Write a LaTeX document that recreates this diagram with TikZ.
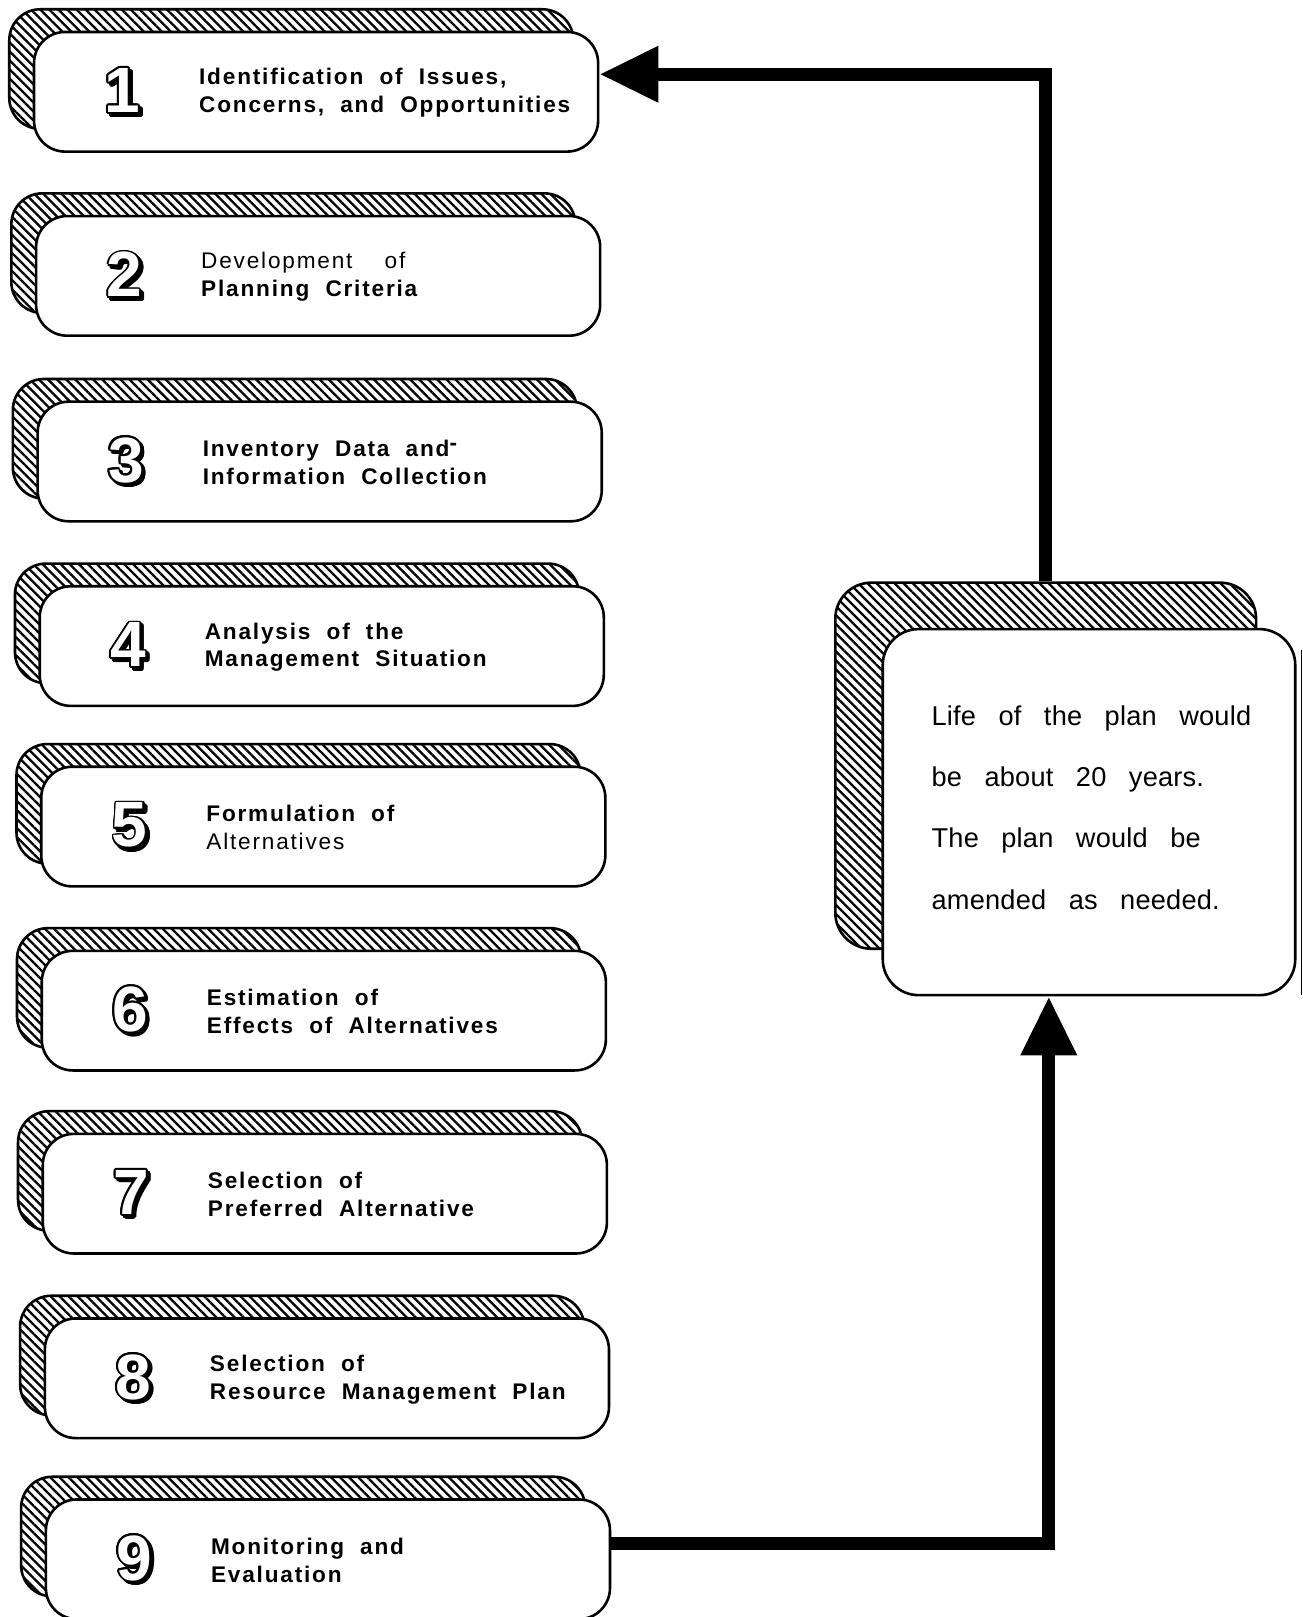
\documentclass[tikz,border=0pt]{standalone}
\usepackage{fontspec}
\setmainfont{Liberation Sans}
\newfontfamily\boxfont[LetterSpace=8,WordSpace=2]{Liberation Sans}
\newfontfamily\sidefont[LetterSpace=0.75,WordSpace=2.9]{Liberation Sans}
\newfontfamily\digitfont{Liberation Sans}
\usepackage{contour}
\contourlength{0.9pt}
\usetikzlibrary{calc,arrows.meta,patterns.meta}
\newcommand\pxu{0.5155pt}
\newcommand\digitshape[1]{\makebox[0pt][l]{\hspace{1.4pt}\raisebox{-1.4pt}{\contour{black}{#1}}}\contour{black}{\textcolor{white}{#1}}}
\newcommand\planstep[6]{%
  \node[shadowbox] (#1s) at (#2-24,#3-22) {};
  \node[frontbox] (#1) at (#2,#3) {};
  \node[digitnode] (#1n) at ($(#1.west)+(87,1)$) {\digitshape{#4}};
  \node[steptext] (#1t) at ($(#1.west)+(161,1)$) {#5\\#6};
}
\begin{document}
\begin{tikzpicture}[x=0.5155pt,y=-0.5155pt,
  shadowbox/.style={draw=black,line width=1.3pt,rounded corners=15.5pt,
    minimum width=547*\pxu,minimum height=116*\pxu,inner sep=0,
    pattern={Lines[angle=-45,distance=3.2pt,line width=1.15pt]}},
  frontbox/.style={draw=black,fill=white,line width=1.3pt,rounded corners=15.5pt,
    minimum width=547*\pxu,minimum height=116*\pxu,inner sep=0},
  digitnode/.style={inner sep=0,font=\digitfont\bfseries\fontsize{32}{32}\selectfont},
  steptext/.style={anchor=west,inner sep=0,align=left,
    font=\boxfont\fontsize{11.3}{13.9}\selectfont},
  flow/.style={line width=6.6pt,-{Triangle[length=29.5pt,width=26.5pt]}}]
\useasboundingbox (0,0) rectangle (1263,1568);
\fill[white] (0,0) rectangle (1263,1568);

\planstep{b1}{306.5}{89}{1}{\textbf{Identification of Issues,}}{\textbf{Concerns, and Opportunities}}
\planstep{b2}{308.5}{267.5}{2}{Development\hspace{8pt} of}{\textbf{Planning Criteria}}
\planstep{b3}{310}{447.5}{3}{\textbf{Inventory Data and\raisebox{0.5ex}{-}}}{\textbf{Information Collection}}
\planstep{b4}{312}{626.5}{4}{\textbf{Analysis of the}}{\textbf{Management Situation}}
\planstep{b5}{313.5}{801.5}{5}{\textbf{Formulation of}}{Alternatives}
\planstep{b6}{314}{980}{6}{\textbf{Estimation of}}{\textbf{Effects of Alternatives}}
\planstep{b7}{315}{1157.5}{7}{\textbf{Selection of}}{\textbf{Preferred Alternative}}
\planstep{b8}{317}{1336.5}{8}{\textbf{Selection of}}{\textbf{Resource Management Plan}}
\planstep{b9}{318}{1512}{9}{\textbf{Monitoring and}}{\textbf{Evaluation}}

% side box
\node[shadowbox,minimum width=408*\pxu,minimum height=355*\pxu,rounded corners=18pt] (lifes) at (1014,742.5) {};
\node[frontbox,minimum width=400*\pxu,minimum height=355*\pxu,rounded corners=18pt] (life) at (1056,787.5) {};
\node[anchor=west,inner sep=0,align=left,font=\sidefont\fontsize{13.6}{30.6}\selectfont] (lifet) at (903,783)
  {Life of the plan would\\be about 20 years.\\The plan would be\\amended as needed.};
\draw[line width=0.6pt] (1262,630) -- (1262,965);

% connectors
\coordinate (in1) at ($(b1.east)+(0,-17)$);
\coordinate (out9) at ($(b9.east)+(0,-15)$);
\coordinate (lifein) at ($(life.south)+(-39,0)$);
\draw[flow] (lifes.north) |- (in1);
\draw[flow] (out9) -| (lifein);
\end{tikzpicture}
\end{document}
